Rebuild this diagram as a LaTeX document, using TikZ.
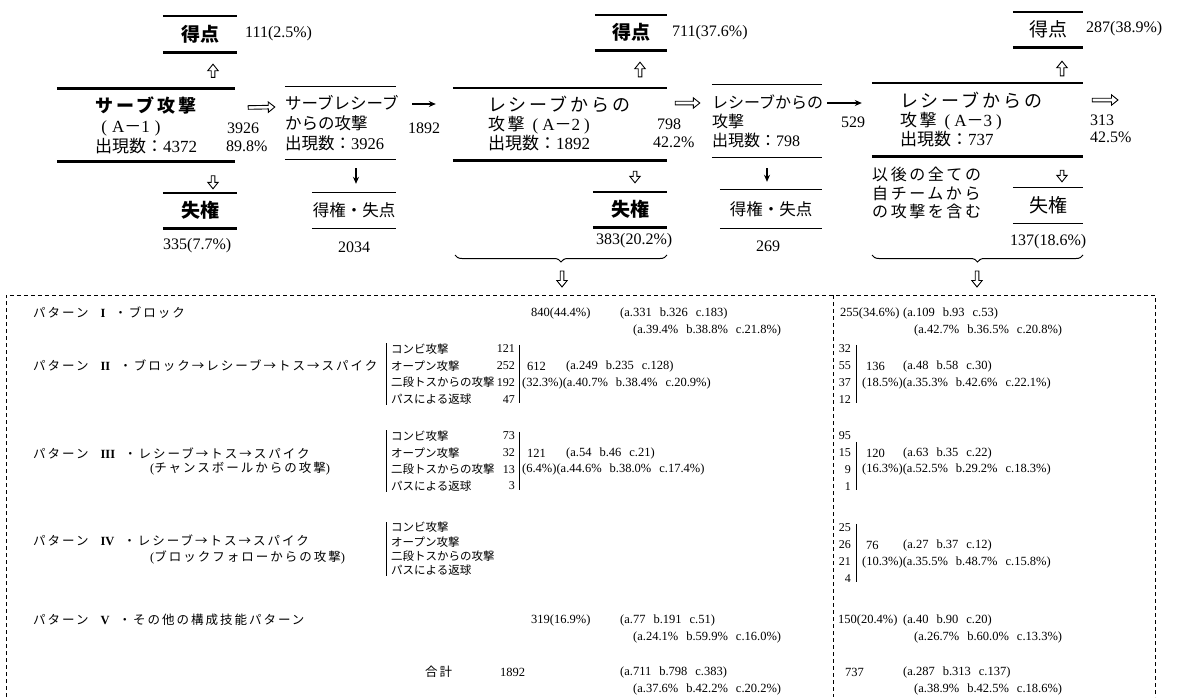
\documentclass[tikz,border=0pt]{standalone}
\usepackage{fontspec}
\setmainfont{Liberation Serif}
\newfontfamily\jp{Noto Sans CJK JP}
\newfontfamily\jpw[LetterSpace=16]{Noto Sans CJK JP}
\usetikzlibrary{arrows.meta,decorations.pathreplacing,calc}
\newcommand\fsz[2]{\fontsize{#1}{#2}\selectfont}
\newcommand\gp{\hspace{8pt}}
\newcommand\pat[1]{{\jpw パターン}\hspace{12pt}{\rmfamily\bfseries #1}\hspace{9pt}}
\tikzset{
  box/.style={inner sep=0pt},
  lbl/.style={inner sep=0pt, anchor=west, font=\fsz{16}{18}},
  tnum/.style={inner sep=0pt, anchor=west, font=\fsz{12.5}{14}},
  tlab/.style={inner sep=0pt, anchor=west, font=\jpw\fsz{12.5}{15}},
  sub/.style={inner sep=0pt, anchor=west, align=left, font=\jp\fsz{11.5}{16.7}},
  subn/.style={inner sep=0pt, anchor=east, align=right, font=\fsz{12}{16.7}},
  hollow/.style={line width=0.9pt, line join=miter, to path={
     let \p1=($(\tikztotarget)-(\tikztostart)$), \n1={atan2(\y1,\x1)} in
     ($(\tikztostart)+(\n1+90:1.8pt)$)
     -- ($(\tikztotarget)+(\n1+180:6.5pt)+(\n1+90:1.8pt)$)
     -- ($(\tikztotarget)+(\n1+180:6.5pt)+(\n1+90:5.2pt)$)
     -- (\tikztotarget)
     -- ($(\tikztotarget)+(\n1+180:6.5pt)+(\n1-90:5.2pt)$)
     -- ($(\tikztotarget)+(\n1+180:6.5pt)+(\n1-90:1.8pt)$)
     -- ($(\tikztostart)+(\n1-90:1.8pt)$) -- cycle}},
  sarrow/.style={line width=1.3pt, -{Stealth[length=7pt,width=6pt]}},
  thickrule/.style={line width=2.6pt},
  thinrule/.style={line width=1.2pt},
  tline/.style={line width=0.8pt},
  border/.style={line width=0.8pt, dash pattern=on 4pt off 3pt},
  brc/.style={line width=1pt, decorate, decoration={brace, mirror, amplitude=7pt}},
}
\begin{document}
\begin{tikzpicture}[x=1pt,y=-1pt]
\useasboundingbox (0,0) rectangle (1181,697);

% ---------- top flow boxes ----------
\node[box, minimum width=74pt, minimum height=36pt, font=\jp\bfseries\fsz{19}{19}] (s1) at (200,34) {得点};
\node[box, minimum width=178pt, minimum height=73pt, align=center, font=\fsz{17}{20}] (a1) at (146,125)
  {{\jpw\bfseries\fsz{18}{20}サーブ攻撃}\\(\hspace{5pt}A{\jp －}1\hspace{5pt})\rule{30pt}{0pt}\\{\jp 出現数：}4372};
\node[box, minimum width=74pt, minimum height=35pt, font=\jp\bfseries\fsz{19}{19}] (l1) at (200,210.5) {失権};
\node[box, minimum width=111pt, text width=111pt, minimum height=72pt, align=left, font=\fsz{16.5}{20}] (b1) at (340.5,123)
  {{\jp サーブレシーブ}\\{\jp からの攻撃}\\{\jp 出現数：}3926};
\node[box, minimum width=84pt, minimum height=35pt, font=\jp\fsz{16.5}{17}] (c1) at (354,210.5) {得権・失点};

\node[box, minimum width=72pt, minimum height=35pt, font=\jp\bfseries\fsz{19}{19}] (s2) at (631,32.5) {得点};
\node[box, minimum width=214pt, text width=214pt, minimum height=72pt, align=left, font=\fsz{17}{19}] (a2) at (560,124)
  {\hspace*{35pt}{\jpw\fsz{18}{19}レシーブからの}\\\hspace*{35pt}{\jpw 攻撃}\hspace{8pt}(\hspace{4pt}A{\jp －}2\hspace{4pt})\\\hspace*{35pt}{\jp 出現数：}1892};
\node[box, minimum width=74pt, minimum height=35pt, font=\jp\bfseries\fsz{19}{19}] (l2) at (630,209.5) {失権};
\node[box, minimum width=110pt, text width=110pt, minimum height=72pt, align=left, font=\fsz{16}{19}] (b2) at (767,121)
  {{\jp レシーブからの}\\{\jp 攻撃}\\{\jp 出現数：}798};
\node[box, minimum width=102pt, minimum height=38pt, font=\jp\fsz{16.5}{17}] (c2) at (771,209) {得権・失点};

\node[box, minimum width=70pt, minimum height=35pt, font=\jp\fsz{19}{19}] (s3) at (1048,29.5) {得点};
\node[box, minimum width=211pt, text width=211pt, minimum height=73pt, align=left, font=\fsz{17}{19}] (a3) at (977.5,119.5)
  {\hspace*{28pt}{\jpw\fsz{18}{19}レシーブからの}\\\hspace*{28pt}{\jpw 攻撃}\hspace{8pt}(\hspace{4pt}A{\jp －}3\hspace{4pt})\\\hspace*{28pt}{\jp 出現数：}737};
\node[box, minimum width=70pt, minimum height=35pt, font=\jp\fsz{19}{19}] (l3) at (1048,205.5) {失権};
\node[box, anchor=west, align=left, font=\jpw\fsz{16}{18.5}] (note) at (872,193)
  {以後の全ての\\自チームから\\の攻撃を含む};

\foreach \n in {s1,a1,l1,s2,a2,l2,s3,a3}
  \draw[thickrule] (\n.north west) -- (\n.north east) (\n.south west) -- (\n.south east);
\foreach \n in {b1,c1,b2,c2,l3}
  \draw[thinrule] (\n.north west) -- (\n.north east) (\n.south west) -- (\n.south east);

% ---------- numbers around the flow ----------
\node[lbl] (v111) at (245,34) {111(2.5\%)};
\node[lbl] (v335) at (163,246) {335(7.7\%)};
\node[lbl] (v3926) at (227,128) {3926};
\node[lbl] (v898) at (226,146) {89.8\%};
\node[lbl, anchor=center] (v2034) at (354,247) {2034};
\node[lbl, anchor=center] (v1892) at (424,128) {1892};
\node[lbl] (v711) at (672,33) {711(37.6\%)};
\node[lbl] (v383) at (596,241) {383(20.2\%)};
\node[lbl] (v798) at (657,124) {798};
\node[lbl] (v422) at (653,142) {42.2\%};
\node[lbl, anchor=center] (v269) at (768,246) {269};
\node[lbl, anchor=center] (v529) at (853,122) {529};
\node[lbl] (v287) at (1086,29) {287(38.9\%)};
\node[lbl] (v313) at (1090,120) {313};
\node[lbl] (v425) at (1090,137) {42.5\%};
\node[lbl] (v137) at (1010,242) {137(18.6\%)};
\coordinate (out3) at (1118,100);

% ---------- connectors ----------
\draw[hollow] ([xshift=67pt,yshift=11pt]a1.north) to ([xshift=13pt,yshift=-12pt]s1.south);
\draw[hollow] ([xshift=67pt,yshift=-14pt]a1.south) to ([xshift=13pt,yshift=4pt]l1.north);
\draw[hollow] ([xshift=13pt,yshift=17.5pt]a1.east) to ([xshift=-10pt,yshift=16pt]b1.west);
\draw[sarrow, shorten <=9pt, shorten >=9pt] ([xshift=15.5pt]b1.south) -- ([xshift=2pt]c1.north);
\draw[sarrow, shorten <=16pt, shorten >=17pt] ([yshift=19pt]b1.east) -- ([yshift=20pt]a2.west);
\draw[hollow] ([xshift=80pt,yshift=11pt]a2.north) to ([xshift=9pt,yshift=-12pt]s2.south);
\draw[hollow] ([xshift=75pt,yshift=-11pt]a2.south) to ([xshift=5pt,yshift=9pt]l2.north);
\draw[hollow] ([xshift=8pt,yshift=21pt]a2.east) to ([xshift=-12pt,yshift=18pt]b2.west);
\draw[sarrow, shorten <=11pt, shorten >=8pt] (b2.south) -- ([xshift=-4pt]c2.north);
\draw[sarrow, shorten <=5pt, shorten >=10pt] ([yshift=18pt]b2.east) -- ([yshift=16.5pt]a3.west);
\draw[hollow] ([xshift=84.5pt,yshift=7pt]a3.north) to ([xshift=14pt,yshift=-14pt]s3.south);
\draw[hollow] ([xshift=84.5pt,yshift=-14pt]a3.south) to ([xshift=14pt,yshift=6pt]l3.north);
\draw[hollow] ([xshift=9pt,yshift=19.5pt]a3.east) to (out3);

% ---------- braces ----------
\draw[brc] (455,255) -- (667,255);
\draw[brc] (872,255) -- (1083,255);
\coordinate (bt1) at (562,271);
\coordinate (bt2) at (977,271);
\coordinate (tt1) at (562,287);
\coordinate (tt2) at (977,287);
\draw[hollow] (bt1) to (tt1);
\draw[hollow] (bt2) to (tt2);

% ---------- table frame ----------
\draw[border] (6,697) -- (6,295) -- (1155,295) -- (1155,697);
\draw[border] (833,295) -- (833,697);

% ---------- table: pattern labels ----------
\node[tlab] (p1) at (33,313) {\pat{I}{\jpw ・ブロック}};
\node[tlab] (p2) at (33,366) {\pat{II}{\jpw ・ブロック→レシーブ→トス→スパイク}};
\node[tlab] (p3) at (33,453) {\pat{III}{\jpw ・レシーブ→トス→スパイク}};
\node[tlab] (p3b) at (150,469) {{\rmfamily (}チャンスボールからの攻撃{\rmfamily )}};
\node[tlab] (p4) at (33,540) {\pat{IV}{\jpw ・レシーブ→トス→スパイク}};
\node[tlab] (p4b) at (150,557) {{\rmfamily (}ブロックフォローからの攻撃{\rmfamily )}};
\node[tlab] (p5) at (33,620) {\pat{V}{\jpw ・その他の構成技能パターン}};
\node[tlab] (tot) at (425,672) {合計};

% ---------- table: sub items ----------
\node[sub] (i2) at (391,374) {コンビ攻撃\\オープン攻撃\\二段トスからの攻撃\\パスによる返球};
\node[subn] (n2) at (515,374) {121\\252\\192\\47};
\node[sub] (i3) at (391,461) {コンビ攻撃\\オープン攻撃\\二段トスからの攻撃\\パスによる返球};
\node[subn] (n3) at (515,461) {73\\32\\13\\3};
\node[sub, font=\jp\fsz{11.5}{14.3}] (i4) at (391,549) {コンビ攻撃\\オープン攻撃\\二段トスからの攻撃\\パスによる返球};
\foreach \n in {i2,i3,i4}
  \draw[tline] ([xshift=-5pt]\n.north west) -- ([xshift=-5pt]\n.south west);
\foreach \n in {n2,n3}
  \draw[tline] ([xshift=4pt]\n.north east) -- ([xshift=4pt]\n.south east);

% ---------- table: left section values ----------
\node[tnum] (l1a) at (531,313) {840(44.4\%)};
\node[tnum] (l1b) at (620,313) {(a.331\gp b.326\gp c.183)};
\node[tnum] (l1c) at (633,330) {(a.39.4\%\gp b.38.8\%\gp c.21.8\%)};
\node[tnum] (l2a) at (527,366) {612};
\node[tnum] (l2b) at (566,366) {(a.249\gp b.235\gp c.128)};
\node[tnum] (l2c) at (522,383) {(32.3\%)(a.40.7\%\gp b.38.4\%\gp c.20.9\%)};
\node[tnum] (l3a) at (527,453) {121};
\node[tnum] (l3b) at (566,453) {(a.54\gp b.46\gp c.21)};
\node[tnum] (l3c) at (522,469) {(6.4\%)(a.44.6\%\gp b.38.0\%\gp c.17.4\%)};
\node[tnum] (l5a) at (531,620) {319(16.9\%)};
\node[tnum] (l5b) at (620,620) {(a.77\gp b.191\gp c.51)};
\node[tnum] (l5c) at (633,637) {(a.24.1\%\gp b.59.9\%\gp c.16.0\%)};
\node[tnum] (lta) at (500,672) {1892};
\node[tnum] (ltb) at (620,672) {(a.711\gp b.798\gp c.383)};
\node[tnum] (ltc) at (633,689) {(a.37.6\%\gp b.42.2\%\gp c.20.2\%)};

% ---------- table: right section values ----------
\node[tnum] (r1a) at (840,313) {255(34.6\%)};
\node[tnum] (r1b) at (903,313) {(a.109\gp b.93\gp c.53)};
\node[tnum] (r1c) at (914,330) {(a.42.7\%\gp b.36.5\%\gp c.20.8\%)};
\node[subn] (rn2) at (851,374) {32\\55\\37\\12};
\node[tnum] (r2a) at (866,366) {136};
\node[tnum] (r2b) at (903,366) {(a.48\gp b.58\gp c.30)};
\node[tnum] (r2c) at (862,383) {(18.5\%)(a.35.3\%\gp b.42.6\%\gp c.22.1\%)};
\node[subn] (rn3) at (851,461) {95\\15\\9\\1};
\node[tnum] (r3a) at (866,453) {120};
\node[tnum] (r3b) at (903,453) {(a.63\gp b.35\gp c.22)};
\node[tnum] (r3c) at (862,469) {(16.3\%)(a.52.5\%\gp b.29.2\%\gp c.18.3\%)};
\node[subn] (rn4) at (851,553) {25\\26\\21\\4};
\node[tnum] (r4a) at (866,545) {76};
\node[tnum] (r4b) at (903,545) {(a.27\gp b.37\gp c.12)};
\node[tnum] (r4c) at (862,562) {(10.3\%)(a.35.5\%\gp b.48.7\%\gp c.15.8\%)};
\node[tnum] (r5a) at (838,620) {150(20.4\%)};
\node[tnum] (r5b) at (903,620) {(a.40\gp b.90\gp c.20)};
\node[tnum] (r5c) at (914,637) {(a.26.7\%\gp b.60.0\%\gp c.13.3\%)};
\node[tnum] (rta) at (845,672) {737};
\node[tnum] (rtb) at (903,672) {(a.287\gp b.313\gp c.137)};
\node[tnum] (rtc) at (914,689) {(a.38.9\%\gp b.42.5\%\gp c.18.6\%)};
\draw[tline] ([xshift=5pt]rn2.north east) -- ([xshift=5pt]rn2.south east);
\draw[tline] ([xshift=5pt,yshift=-10pt]rn3.north east) -- ([xshift=5pt]rn3.south east);
\draw[tline] ([xshift=5pt]rn4.north east) -- ([xshift=5pt]rn4.south east);
\end{tikzpicture}
\end{document}
